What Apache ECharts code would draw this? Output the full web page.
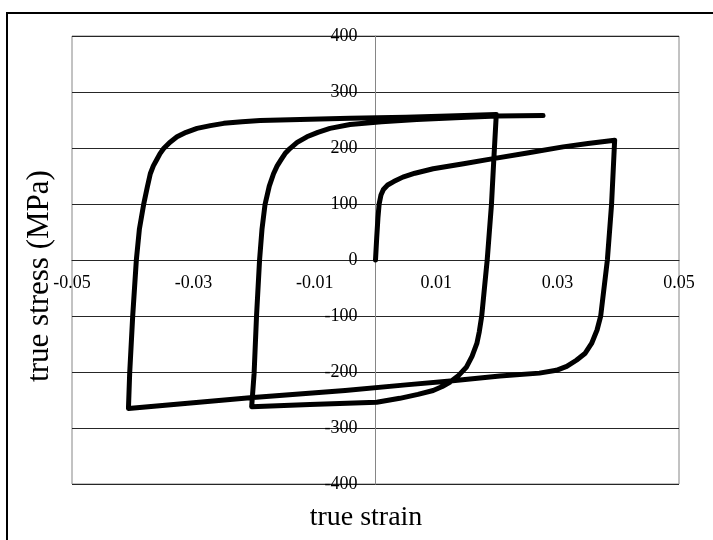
<!DOCTYPE html>
<html>
<head>
<meta charset="utf-8">
<script src="https://cdn.jsdelivr.net/npm/echarts@6/dist/echarts.min.js"></script>
<style>
  html, body { margin: 0; padding: 0; background: #fff; }
  #chart { width: 713px; height: 540px; }
</style>
</head>
<body>
<div id="chart"></div>
<script>
// Cyclic loading path, branch by branch: [true strain, true stress (MPa)]
const monotonicLoad = [
  [0, 0], [0.0002, 40], [0.0004, 75], [0.0006, 100], [0.0009, 116], [0.0013, 126],
  [0.002, 134], [0.003, 140], [0.0045, 148], [0.0065, 155], [0.0095, 163], [0.0145, 172],
  [0.0194, 181], [0.025, 191], [0.0309, 202], [0.035, 208], [0.0394, 214]
];
const reverseToMinus4 = [
  [0.0389, 100], [0.0382, 0], [0.0371, -100], [0.0365, -125],
  [0.0356, -149], [0.0345, -167], [0.0331, -179], [0.0315, -190], [0.0298, -197],
  [0.027, -202], [0.0205, -207], [0.0123, -216], [0.005, -223], [-0.005, -233],
  [-0.0207, -246], [-0.0407, -265]
];
const forwardToPlus2 = [
  [-0.0405, -203], [-0.040, -100], [-0.0394, 0], [-0.0389, 55], [-0.0382, 99],
  [-0.0376, 130], [-0.0371, 154], [-0.0366, 168], [-0.036, 180], [-0.0355, 190],
  [-0.0349, 199], [-0.0339, 210], [-0.0327, 220], [-0.0312, 228], [-0.0294, 235],
  [-0.0272, 240], [-0.025, 244], [-0.022, 247], [-0.019, 249], [-0.0042, 253],
  [0.005, 255], [0.012, 257], [0.0199, 260]
];
const reverseToMinus2 = [
  [0.0195, 181], [0.0191, 99], [0.0184, 0], [0.0175, -100], [0.0171, -128],
  [0.0167, -149], [0.0159, -172], [0.015, -191], [0.0137, -206], [0.0123, -218],
  [0.011, -226], [0.0095, -233], [0.007, -240], [0.004, -247], [0.0002, -254],
  [-0.0108, -258], [-0.0204, -262]
];
const finalLoad = [
  [-0.020, -203], [-0.0196, -100], [-0.0191, 0], [-0.0187, 55], [-0.0182, 99],
  [-0.0175, 132], [-0.0168, 154], [-0.0162, 168], [-0.0155, 180], [-0.0149, 190],
  [-0.0141, 199], [-0.0129, 210], [-0.0113, 220], [-0.0095, 228], [-0.0075, 235],
  [-0.0042, 242], [0.001, 247], [0.0068, 251], [0.015, 255], [0.02, 257], [0.0276, 258]
];

// Axis ranges and tick labels
const strainRange = [-0.05, 0.05];
const strainLabels = ['-0.05', '-0.03', '-0.01', '0.01', '0.03', '0.05'];
const stressRange = [-400, 400];
const stressStep = 100;

const path = [].concat(monotonicLoad, reverseToMinus4, forwardToPlus2, reverseToMinus2, finalLoad);

const FONT = '"Liberation Serif", "Times New Roman", serif';
const GRID = { left: 72, right: 34, top: 36, bottom: 56 };
const PLOT_W = 713 - GRID.left - GRID.right;
const PLOT_H = 540 - GRID.top - GRID.bottom;

// both axes cross at the origin, in the middle of the plot
const chart = echarts.init(document.getElementById('chart'), null, { renderer: 'canvas' });

chart.setOption({
  animation: false,
  backgroundColor: '#ffffff',
  grid: Object.assign({
    show: true, borderColor: '#868686', borderWidth: 1, backgroundColor: 'transparent'
  }, GRID),
  xAxis: {
    type: 'value',
    min: strainRange[0], max: strainRange[1], interval: 0.01,
    position: 'bottom',
    offset: -PLOT_H / 2,
    axisLine: { show: true, onZero: false, lineStyle: { color: '#262626', width: 1 } },
    axisTick: { show: false },
    splitLine: { show: false },
    axisLabel: {
      margin: 14,
      fontFamily: FONT, fontSize: 18, color: '#000',
      formatter: function (v) {
        const s = v.toFixed(2).replace('-0.00', '0.00');
        return strainLabels.indexOf(s) >= 0 ? s : '';
      }
    }
  },
  yAxis: {
    type: 'value',
    min: stressRange[0], max: stressRange[1], interval: stressStep,
    position: 'left',
    offset: -PLOT_W / 2,
    axisLine: { show: true, onZero: false, lineStyle: { color: '#868686', width: 1 } },
    axisTick: { show: false },
    splitLine: { show: true, lineStyle: { color: '#262626', width: 1 } },
    axisLabel: { margin: 18, fontFamily: FONT, fontSize: 18, color: '#000' }
  },
  graphic: [
    {
      type: 'rect', silent: true, z: 100,
      shape: { x: 7, y: 13, width: 720, height: 540 },
      style: { fill: 'none', stroke: '#000', lineWidth: 2 }
    },
    {
      type: 'text', x: 366, y: 518, silent: true,
      style: { text: 'true strain', font: '28px ' + FONT, fill: '#000', align: 'center', verticalAlign: 'middle' }
    },
    {
      type: 'text', x: 40, y: 276, rotation: Math.PI / 2, silent: true,
      style: { text: 'true stress (MPa)', font: '31px ' + FONT, fill: '#000', align: 'center', verticalAlign: 'middle' }
    }
  ],
  series: [{
    type: 'line',
    data: path,
    showSymbol: false,
    smooth: false,
    lineStyle: { color: '#000', width: 5, join: 'round', cap: 'round' }
  }]
});
</script>
</body>
</html>
